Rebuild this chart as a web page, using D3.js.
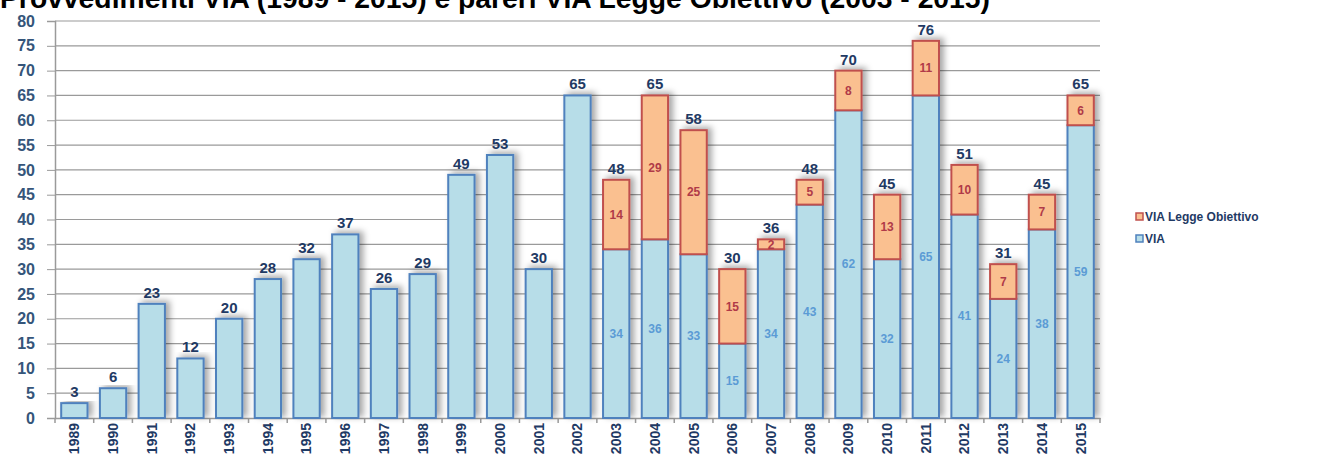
<!DOCTYPE html>
<html>
<head>
<meta charset="utf-8">
<script src="https://cdn.jsdelivr.net/npm/d3@7"></script>
<style>
  body { margin: 0; background: #fff; }
  text { font-family: "Liberation Sans", Arial, sans-serif; }
</style>
</head>
<body>
<svg width="1330" height="455"></svg>
<script>
var years = ["1989","1990","1991","1992","1993","1994","1995","1996","1997","1998","1999","2000","2001","2002",
             "2003","2004","2005","2006","2007","2008","2009","2010","2011","2012","2013","2014","2015"];
var via = [3,6,23,12,20,28,32,37,26,29,49,53,30,65,34,36,33,15,34,43,62,32,65,41,24,38,59];
var leggeObiettivo = [0,0,0,0,0,0,0,0,0,0,0,0,0,0,14,29,25,15,2,5,8,13,11,10,7,7,6];
var yTicks = [0,5,10,15,20,25,30,35,40,45,50,55,60,65,70,75,80];

var svg = d3.select("svg");
var mLeft = 55, mRight = 1100, mTop = 21, mBottom = 418;

var x = d3.scaleBand().domain(years).range([mLeft, mRight]).paddingInner(0.32).paddingOuter(0.16);
var y = d3.scaleLinear().domain([0, 80]).range([mBottom, mTop]);

// shadow for bars
var defs = svg.append("defs");
var f = defs.append("filter").attr("id", "shadow").attr("x", "-30%").attr("y", "-10%").attr("width", "180%").attr("height", "120%");
f.append("feDropShadow").attr("dx", 4).attr("dy", -2).attr("stdDeviation", 3)
  .attr("flood-color", "#000").attr("flood-opacity", 0.35);

// title (cut at the top, as in the source)
svg.append("text").attr("x", 0).attr("y", 8)
  .attr("font-family", "'Open Sans', sans-serif")
  .attr("font-weight", "bold").attr("font-size", 27).attr("fill", "#000")
  .attr("textLength", 990).attr("lengthAdjust", "spacingAndGlyphs")
  .text("Provvedimenti VIA (1989 - 2015) e pareri VIA Legge Obiettivo (2003 - 2015)");

// gridlines
svg.append("g").selectAll("line").data(yTicks.slice(1)).enter().append("line")
  .attr("x1", mLeft).attr("x2", mRight)
  .attr("y1", function(d) { return y(d); }).attr("y2", function(d) { return y(d); })
  .attr("stroke", "#9a9a9a").attr("stroke-width", 1.2);

// y axis
var yAxis = svg.append("g").attr("transform", "translate(" + mLeft + ",0)")
  .call(d3.axisLeft(y).tickValues(yTicks).tickSize(8).tickPadding(12));
yAxis.select(".domain").attr("stroke", "#9a9a9a").attr("stroke-width", 1.5);
yAxis.selectAll(".tick line").attr("stroke", "#9a9a9a");
yAxis.selectAll("text").attr("font-size", 16).attr("font-weight", "bold")
  .attr("fill", "#35557a").attr("font-family", "'DejaVu Sans', sans-serif");

// x axis
var xAxis = svg.append("g").attr("transform", "translate(0," + mBottom + ")")
  .call(d3.axisBottom(x).tickSize(0).tickPadding(6));
xAxis.select(".domain").attr("stroke", "#9a9a9a").attr("stroke-width", 1.5);
xAxis.selectAll("text").attr("font-size", 14).attr("font-weight", "bold").attr("fill", "#1f3a64")
  .attr("font-family", "'Liberation Sans', Arial, sans-serif")
  .attr("transform", "rotate(-90)").attr("text-anchor", "end")
  .attr("dx", "-5").attr("dy", "0.35em").attr("x", 0).attr("y", 0);
// category separators below axis
var step = x.step();
xAxis.selectAll("line.sep").data(d3.range(years.length + 1)).enter().append("line")
  .attr("class", "sep")
  .attr("x1", function(i) { return mLeft + i * step; })
  .attr("x2", function(i) { return mLeft + i * step; })
  .attr("y1", 0).attr("y2", 5).attr("stroke", "#9a9a9a").attr("stroke-width", 1.5);

// bars
var bars = svg.append("g").selectAll("g").data(years).enter().append("g").attr("filter", "url(#shadow)");
bars.append("rect")
  .attr("x", function(d) { return x(d); }).attr("width", x.bandwidth())
  .attr("y", function(d, i) { return y(via[i]); })
  .attr("height", function(d, i) { return y(0) - y(via[i]); })
  .attr("fill", "#b7dde8").attr("stroke", "#4f81bd").attr("stroke-width", 2);
bars.filter(function(d, i) { return leggeObiettivo[i] > 0; }).append("rect")
  .attr("x", function(d) { return x(d); }).attr("width", x.bandwidth())
  .attr("y", function(d) { var i = years.indexOf(d); return y(via[i] + leggeObiettivo[i]); })
  .attr("height", function(d) { var i = years.indexOf(d); return y(via[i]) - y(via[i] + leggeObiettivo[i]); })
  .attr("fill", "#fac090").attr("stroke", "#c0504d").attr("stroke-width", 2);

// labels
var labels = svg.append("g");
labels.selectAll("text.tot").data(years).enter().append("text")
  .attr("x", function(d) { return x(d) + x.bandwidth() / 2; })
  .attr("y", function(d, i) { return y(via[i] + leggeObiettivo[i]) - 6; })
  .attr("text-anchor", "middle").attr("font-size", 15).attr("font-weight", "bold")
  .attr("fill", "#1f3a64").attr("font-family", "'DejaVu Sans', sans-serif")
  .text(function(d, i) { return via[i] + leggeObiettivo[i]; });
labels.selectAll("text.via").data(years.filter(function(d, i) { return leggeObiettivo[i] > 0; })).enter().append("text")
  .attr("x", function(d) { return x(d) + x.bandwidth() / 2; })
  .attr("y", function(d) { var i = years.indexOf(d); return y(via[i] / 2); })
  .attr("dy", "0.35em").attr("text-anchor", "middle").attr("font-size", 12).attr("font-weight", "bold")
  .attr("fill", "#5b9bd5").attr("font-family", "'DejaVu Sans', sans-serif")
  .text(function(d) { return via[years.indexOf(d)]; });
labels.selectAll("text.lo").data(years.filter(function(d, i) { return leggeObiettivo[i] > 0; })).enter().append("text")
  .attr("x", function(d) { return x(d) + x.bandwidth() / 2; })
  .attr("y", function(d) { var i = years.indexOf(d); return y(via[i] + leggeObiettivo[i] / 2); })
  .attr("dy", "0.35em").attr("text-anchor", "middle").attr("font-size", 12).attr("font-weight", "bold")
  .attr("fill", "#b03a48").attr("font-family", "'DejaVu Sans', sans-serif")
  .text(function(d) { return leggeObiettivo[years.indexOf(d)]; });

// legend
var legendItems = [
  { name: "VIA Legge Obiettivo", fill: "#fac090", stroke: "#c0504d" },
  { name: "VIA", fill: "#b7dde8", stroke: "#4f81bd" }
];
var legend = svg.append("g").attr("transform", "translate(1136,217)");
var li = legend.selectAll("g").data(legendItems).enter().append("g")
  .attr("transform", function(d, i) { return "translate(0," + i * 22 + ")"; });
li.append("rect").attr("x", 0).attr("y", -4).attr("width", 7).attr("height", 7)
  .attr("fill", function(d) { return d.fill; }).attr("stroke", function(d) { return d.stroke; }).attr("stroke-width", 1.5);
li.append("text").attr("x", 9).attr("y", 0).attr("dy", "0.35em")
  .attr("font-size", 12).attr("font-weight", "bold").attr("fill", "#1f3a64")
  .text(function(d) { return d.name; });
</script>
</body>
</html>
